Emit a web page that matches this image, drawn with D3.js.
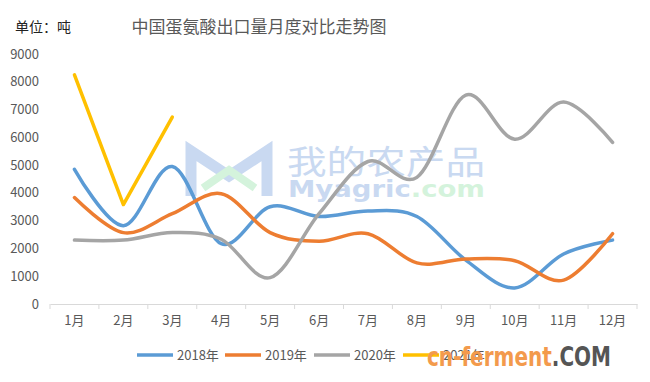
<!DOCTYPE html>
<html>
<head>
<meta charset="utf-8">
<script src="https://cdn.jsdelivr.net/npm/d3@7"></script>
<style>
body { margin:0; background:#fff; }
svg { font-family:"Noto Sans CJK SC","Noto Sans",sans-serif; }
</style>
</head>
<body>
<svg id="chart" width="650" height="382"></svg>
<script>
var months = ["1月","2月","3月","4月","5月","6月","7月","8月","9月","10月","11月","12月"];
var yTicks = [0,1000,2000,3000,4000,5000,6000,7000,8000,9000];
var seriesNames = ["2018年","2019年","2020年","2021年"];
var seriesColors = ["#5b9bd5","#ed7d31","#a5a5a5","#ffc000"];
var v2018 = [4850,2820,4950,2170,3500,3150,3350,3150,1580,580,1800,2300];
var v2019 = [3830,2570,3250,3970,2570,2260,2530,1480,1620,1560,860,2530];
var v2020 = [2300,2300,2570,2330,950,3250,5130,4560,7520,5930,7270,5820];
var v2021 = [8250,3580,6730];

var allSeries = [v2018, v2019, v2020, v2021];

var svg = d3.select("#chart");

var x = d3.scaleBand().domain(months).range([50, 637]);
var y = d3.scaleLinear().domain([0, 9000]).range([304, 54]);

// watermark logo (behind lines)
var wm = svg.append("g");
wm.append("path")
	.attr("d", "M191,196 L191,151 L229,176 L267,151 L267,196")
	.attr("fill", "none")
	.attr("stroke", "#c9d9f1")
	.attr("stroke-width", 11);
wm.append("path")
	.attr("d", "M203,188 L229,170 L255,188")
	.attr("fill", "none")
	.attr("stroke", "#d4f3dc")
	.attr("stroke-width", 8);
wm.append("text")
	.attr("x", 287).attr("y", 174)
	.attr("font-size", 33)
	.attr("fill", "#c9d9f1")
	.attr("textLength", 198)
	.attr("lengthAdjust", "spacingAndGlyphs")
	.text("我的农产品");
var wmt = wm.append("text")
	.attr("x", 288).attr("y", 197)
	.attr("font-size", 23)
	.attr("font-weight", "bold")
	.attr("font-family", "DejaVu Sans")
	.attr("textLength", 197)
	.attr("lengthAdjust", "spacingAndGlyphs");
wmt.append("tspan").attr("fill", "#c9d9f1").text("Myagric");
wmt.append("tspan").attr("fill", "#d4f3dc").text(".com");

// title
svg.append("text")
	.attr("x", 259).attr("y", 33)
	.attr("text-anchor", "middle")
	.attr("font-size", 17)
	.attr("fill", "#595959")
	.text("中国蛋氨酸出口量月度对比走势图");
svg.append("text")
	.attr("x", 15).attr("y", 32)
	.attr("font-size", 14)
	.attr("fill", "#222")
	.text("单位：吨");

// y axis labels
svg.append("g").selectAll("text")
	.data(yTicks)
	.enter().append("text")
	.attr("x", 39)
	.attr("y", function(d){ return y(d) + 4.5; })
	.attr("text-anchor", "end")
	.attr("font-size", 13)
	.attr("fill", "#595959")
	.text(function(d){ return d; });

// x axis
var xAxis = svg.append("g")
	.attr("transform", "translate(0,304)")
	.call(d3.axisBottom(x).tickSize(0).tickPadding(12));
xAxis.select(".domain").attr("stroke", "#d9d9d9");
xAxis.selectAll("text").attr("font-size", 13).attr("fill", "#595959").attr("font-family", "Noto Sans CJK SC");
xAxis.selectAll(".bound")
	.data(d3.range(months.length + 1))
	.enter().append("line")
	.attr("class", "bound")
	.attr("x1", function(i){ return 50 + i * x.step(); })
	.attr("x2", function(i){ return 50 + i * x.step(); })
	.attr("y1", 0).attr("y2", 5)
	.attr("stroke", "#d9d9d9");

// lines
allSeries.forEach(function(vals, i){
	var line = d3.line()
		.x(function(d, j){ return x(months[j]) + x.bandwidth() / 2; })
		.y(function(d){ return y(d); })
		.curve(i == 3 ? d3.curveLinear : d3.curveCardinal.tension(0));
	svg.append("path")
		.datum(vals)
		.attr("d", line)
		.attr("fill", "none")
		.attr("stroke", seriesColors[i])
		.attr("stroke-width", 3.5)
		.attr("stroke-linecap", "round")
		.attr("stroke-linejoin", "round");
});

// legend
var legendX = [137, 225, 314, 403];
var lg = svg.append("g").selectAll("g")
	.data(seriesNames)
	.enter().append("g")
	.attr("transform", function(d, i){ return "translate(" + legendX[i] + ",355)"; });
lg.append("line")
	.attr("x1", 0).attr("x2", 36)
	.attr("stroke", function(d, i){ return seriesColors[i]; })
	.attr("stroke-width", 3.5);
lg.append("text")
	.attr("x", 40).attr("y", 5)
	.attr("font-size", 13)
	.attr("fill", "#595959")
	.text(function(d){ return d; });

// bottom watermark
var cf = svg.append("text")
	.attr("x", 427).attr("y", 366)
	.attr("font-size", 27)
	.attr("font-weight", "bold")
	.attr("font-family", "DejaVu Sans")
	.attr("textLength", 184)
	.attr("lengthAdjust", "spacingAndGlyphs");
cf.append("tspan").attr("fill", "#f39a4c").text("cn-ferment");
cf.append("tspan").attr("fill", "#555").text(".COM");
</script>
</body>
</html>
